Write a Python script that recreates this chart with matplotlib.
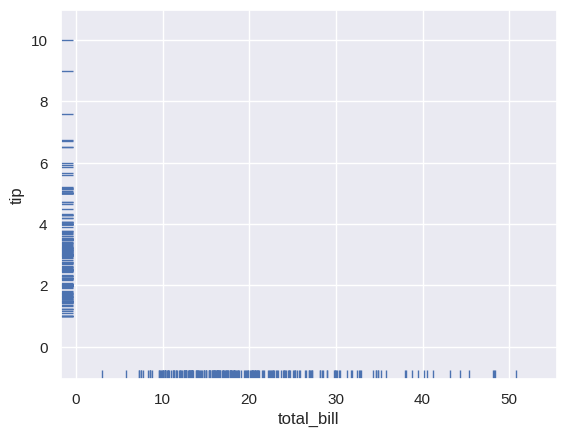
import matplotlib
matplotlib.use("Agg")
import matplotlib.pyplot as plt
import seaborn as sns
import pandas as pd

# restaurant tips: bill amount and tip, one pair per party
total_bill = [
    16.99, 10.34, 21.01, 23.68, 24.59, 25.29, 8.77, 26.88, 15.04, 14.78,
    10.27, 35.26, 15.42, 18.43, 14.83, 21.58, 10.33, 16.29, 16.97, 20.65,
    17.92, 20.29, 15.77, 39.42, 19.82, 17.81, 13.37, 12.69, 21.70, 19.65,
    9.55, 18.35, 15.06, 20.69, 17.78, 24.06, 16.31, 16.93, 18.69, 31.27,
    16.04, 17.46, 13.94, 9.68, 30.40, 18.29, 22.23, 32.40, 28.55, 18.04,
    12.54, 10.29, 34.81, 9.94, 25.56, 19.49, 38.01, 26.41, 11.24, 48.27,
    20.29, 13.81, 11.02, 18.29, 17.59, 20.08, 16.45, 3.07, 20.23, 15.01,
    12.02, 17.07, 26.86, 25.28, 14.73, 10.51, 17.92, 27.20, 22.76, 17.29,
    19.44, 16.66, 10.07, 32.68, 15.98, 34.83, 13.03, 18.28, 24.71, 21.16,
    28.97, 22.49, 5.75, 16.32, 22.75, 40.17, 27.28, 12.03, 21.01, 12.46,
    11.35, 15.38, 44.30, 22.42, 20.92, 15.36, 20.49, 25.21, 18.24, 14.31,
    14.00, 7.25, 38.07, 23.95, 25.71, 17.31, 29.93, 10.65, 12.43, 24.08,
    11.69, 13.42, 14.26, 15.95, 12.48, 29.80, 8.52, 14.52, 11.38, 22.82,
    19.08, 20.27, 11.17, 12.26, 18.26, 8.51, 10.33, 14.15, 16.00, 13.16,
    17.47, 34.30, 41.19, 27.05, 16.43, 8.35, 18.64, 11.87, 9.78, 7.51,
    14.07, 13.13, 17.26, 24.55, 19.77, 29.85, 48.17, 25.00, 13.39, 16.49,
    21.50, 12.66, 16.21, 13.81, 17.51, 24.52, 20.76, 31.71, 10.59, 10.63,
    50.81, 15.81, 7.25, 31.85, 16.82, 32.90, 17.89, 14.48, 9.60, 34.63,
    34.65, 23.33, 45.35, 23.17, 40.55, 20.69, 20.90, 30.46, 18.15, 23.10,
    15.69, 19.81, 28.44, 15.48, 16.58, 7.56, 10.34, 43.11, 13.00, 13.51,
    18.71, 12.74, 13.00, 16.40, 20.53, 16.47, 26.59, 38.73, 24.27, 12.76,
    30.06, 25.89, 48.33, 13.27, 28.17, 12.90, 28.15, 11.59, 7.74, 30.14,
    12.16, 13.42, 8.58, 15.98, 13.42, 16.27, 10.09, 20.45, 13.28, 22.12,
    24.01, 15.69, 11.61, 10.77, 15.53, 10.07, 12.60, 32.83, 35.83, 29.03,
    27.18, 22.67, 17.82, 18.78,
]
tip = [
    1.01, 1.66, 3.50, 3.31, 3.61, 4.71, 2.00, 3.12, 1.96, 3.23,
    1.71, 5.00, 1.57, 3.00, 3.02, 3.92, 1.67, 3.71, 3.50, 3.35,
    4.08, 2.75, 2.23, 7.58, 3.18, 2.34, 2.00, 2.00, 4.30, 3.00,
    1.45, 2.50, 3.00, 2.45, 3.27, 3.60, 2.00, 3.07, 2.31, 5.00,
    2.24, 2.54, 3.06, 1.32, 5.60, 3.00, 5.00, 6.00, 2.05, 3.00,
    2.50, 2.60, 5.20, 1.56, 4.34, 3.51, 3.00, 1.50, 1.76, 6.73,
    3.21, 2.00, 1.98, 3.76, 2.64, 3.15, 2.47, 1.00, 2.01, 2.09,
    1.97, 3.00, 3.14, 5.00, 2.20, 1.25, 3.08, 4.00, 3.00, 2.71,
    3.00, 3.40, 1.83, 5.00, 2.03, 5.17, 2.00, 4.00, 5.85, 3.00,
    3.00, 3.50, 1.00, 4.30, 3.25, 4.73, 4.00, 1.50, 3.00, 1.50,
    2.50, 3.00, 2.50, 3.48, 4.08, 1.64, 4.06, 4.29, 3.76, 4.00,
    3.00, 1.00, 4.00, 2.55, 4.00, 3.50, 5.07, 1.50, 1.80, 2.92,
    2.31, 1.68, 2.50, 2.00, 2.52, 4.20, 1.48, 2.00, 2.00, 2.18,
    1.50, 2.83, 1.50, 2.00, 3.25, 1.25, 2.00, 2.00, 2.00, 2.75,
    3.50, 6.70, 5.00, 5.00, 2.30, 1.50, 1.36, 1.63, 1.73, 2.00,
    2.50, 2.00, 2.74, 2.00, 2.00, 5.14, 5.00, 3.75, 2.61, 2.00,
    3.50, 2.50, 2.00, 2.00, 3.00, 3.48, 2.24, 4.50, 1.61, 2.00,
    10.00, 3.16, 5.15, 3.18, 4.00, 3.11, 2.00, 2.00, 4.00, 3.55,
    3.68, 5.65, 3.50, 6.50, 3.00, 5.00, 3.50, 2.00, 3.50, 4.00,
    1.50, 4.19, 2.56, 2.02, 4.00, 1.44, 2.00, 5.00, 2.00, 2.00,
    4.00, 2.01, 2.00, 2.50, 4.00, 3.23, 3.41, 3.00, 2.03, 2.23,
    2.00, 5.16, 9.00, 2.50, 6.50, 1.10, 3.00, 1.50, 1.44, 3.09,
    2.20, 3.48, 1.92, 3.00, 1.58, 2.50, 2.00, 3.00, 2.72, 2.88,
    2.00, 3.00, 3.39, 1.47, 3.00, 1.25, 1.00, 1.17, 4.67, 5.92,
    2.00, 2.00, 1.75, 3.00,
]

df = pd.DataFrame({"total_bill": total_bill, "tip": tip})

sns.set_theme()
plt.rcParams["font.family"] = ["Liberation Sans", "DejaVu Sans"]

fig, ax = plt.subplots(figsize=(6.4, 4.8))
sns.rugplot(data=df, x="total_bill", y="tip", ax=ax)

# the reference's view is a bit wider than the data
ax.set_xlim(-1.74, 55.48)
ax.set_ylim(-1.05, 10.99)

plt.savefig("out.png", dpi=100, bbox_inches="tight")
